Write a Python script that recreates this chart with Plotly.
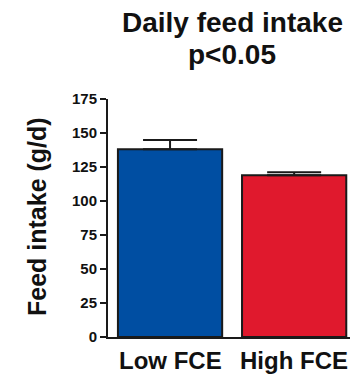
import plotly.graph_objects as go

groups = ["Low FCE", "High FCE"]
intake = [138, 119]
intake_sem = [6.9, 2.2]
bar_colors = ["#004EA2", "#E0192D"]
y_ticks = [0, 25, 50, 75, 100, 125, 150, 175]

font_family = "Liberation Sans, Arial, sans-serif"
ink = "#111111"

# plot area in pixels: x 108..350, y 99..337
L, R, T, B = 108, 5, 99, 37
W, H = 355, 374
pw, ph = W - L - R, H - T - B


def px_x(p):
    return (p - L) / pw


def px_y(p):
    return (H - B - p) / ph


fig = go.Figure(
    go.Bar(
        x=[0, 1],
        y=intake,
        width=0.84,
        marker=dict(color=bar_colors, line=dict(color="#1a1a1a", width=2)),
        error_y=dict(
            type="data",
            symmetric=False,
            array=intake_sem,
            arrayminus=[0, 0],
            color="#1a1a1a",
            thickness=2,
            width=27,
        ),
    )
)

annotations = [
    dict(
        text="<b>Daily feed intake</b>",
        xref="paper", yref="paper",
        x=px_x(232), y=px_y(22),
        xanchor="center", yanchor="middle",
        showarrow=False,
        font=dict(size=28, family=font_family, color=ink),
    ),
    dict(
        text="<b>p<0.05</b>",
        xref="paper", yref="paper",
        x=px_x(232), y=px_y(54),
        xanchor="center", yanchor="middle",
        showarrow=False,
        font=dict(size=28, family=font_family, color=ink),
    ),
    dict(
        text="<b>Feed intake (g/d)</b>",
        xref="paper", yref="paper",
        x=px_x(37), y=px_y(217),
        xanchor="center", yanchor="middle",
        textangle=-90,
        showarrow=False,
        font=dict(size=25, family=font_family, color=ink),
    ),
]

# category labels under the bars
for i, g in enumerate(groups):
    annotations.append(
        dict(
            text=f"<b>{g}</b>",
            xref="x", yref="paper",
            x=i, y=px_y(360),
            xanchor="center", yanchor="middle",
            showarrow=False,
            font=dict(size=24, family=font_family, color=ink),
        )
    )

fig.update_layout(
    width=W,
    height=H,
    margin=dict(l=L, r=R, t=T, b=B),
    paper_bgcolor="white",
    plot_bgcolor="white",
    showlegend=False,
    font=dict(family=font_family, color=ink),
    annotations=annotations,
)

fig.update_xaxes(
    range=[-0.5, 1.45],
    tickvals=[0, 1],
    showticklabels=False,
    showline=True,
    linecolor="#1a1a1a",
    linewidth=2,
    ticks="",
    showgrid=False,
    zeroline=False,
)

fig.update_yaxes(
    range=[0, 175],
    tickvals=y_ticks,
    ticktext=[f"<b>{v}</b>" for v in y_ticks],
    tickfont=dict(size=15, family=font_family, color=ink),
    showline=True,
    linecolor="#1a1a1a",
    linewidth=2,
    ticks="outside",
    ticklen=6,
    tickwidth=2,
    tickcolor="#1a1a1a",
    showgrid=False,
    zeroline=False,
)

fig.write_html("out.html")
